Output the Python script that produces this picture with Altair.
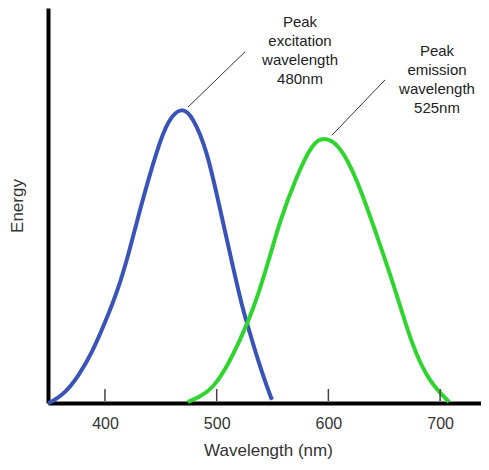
import altair as alt
import pandas as pd

# Excitation (blue) curve
blue_nm = [349.0, 352.6, 364.2, 375.8, 388.4, 400.0, 411.6, 421.0, 431.3, 446.4, 457.0, 468.8,
           478.6, 491.1, 501.2, 514.6, 523.5, 529.8, 536.1, 545.0, 549.5]
blue_energy = [0.0, 0.3, 2.5, 6.6, 12.7, 20.3, 28.6, 37.5, 49.0, 64.1, 72.0, 75.0,
               72.5, 64.1, 51.4, 34.4, 23.5, 17.7, 11.6, 4.1, 0.8]

# Emission (green) curve
green_nm = [474.1, 485.0, 496.7, 509.2, 520.9, 532.5, 545.0, 556.7, 571.4, 585.7, 596.4,
            609.8, 625.0, 645.5, 660.7, 675.0, 690.2, 708.0]
green_energy = [0.3, 1.5, 3.8, 9.1, 15.9, 23.5, 34.4, 46.3, 57.3, 65.9, 67.4,
                65.4, 57.3, 40.7, 28.0, 14.4, 5.3, 0.3]

tick_values = [400, 500, 600, 700]

# Annotation leader lines (start at peak, end near label)
lead_series = ["exc", "exc", "em", "em"]
lead_nm = [474.3, 525.3, 603.2, 650.7]
lead_energy = [74.9, 88.9, 67.8, 81.8]

# Annotation labels
label_text = ["Peak\nexcitation\nwavelength\n480nm", "Peak\nemission\nwavelength\n525nm"]
label_nm = [574.6, 697.2]
label_energy = [98.2, 90.9]

curves = pd.DataFrame({
    "nm": blue_nm + green_nm,
    "energy": blue_energy + green_energy,
    "series": ["Excitation"] * len(blue_nm) + ["Emission"] * len(green_nm),
})
ticks = pd.DataFrame({"nm": tick_values})
leads = pd.DataFrame({"nm": lead_nm, "energy": lead_energy, "series": lead_series})
labels = pd.DataFrame({"nm": label_nm, "energy": label_energy, "text": label_text})

xscale = alt.Scale(domain=[349, 736.6], nice=False, zero=False)
yscale = alt.Scale(domain=[0, 100], nice=False, zero=True)

xaxis = alt.Axis(values=tick_values, tickSize=0, grid=False, domainColor="black",
                 domainWidth=4, labelFontSize=16, labelColor="#333333", labelPadding=12,
                 labelFont="Liberation Sans", title="Wavelength (nm)", titleFontSize=17,
                 titleFontWeight="normal", titleColor="#333333", titleFont="Liberation Sans",
                 titlePadding=11, titleX=220)
yaxis = alt.Axis(labels=False, ticks=False, grid=False, domainColor="black", domainWidth=4,
                 title="Energy", titleFontSize=17, titleFontWeight="normal",
                 titleColor="#333333", titleFont="Liberation Sans", titlePadding=22)

X = alt.X("nm:Q", scale=xscale, axis=xaxis)
Y = alt.Y("energy:Q", scale=yscale, axis=yaxis)

lines = alt.Chart(curves).mark_line(strokeWidth=4, interpolate="basis").encode(
    x=X, y=Y,
    color=alt.Color("series:N", scale=alt.Scale(domain=["Excitation", "Emission"],
                                                range=["#3a53b8", "#2fd42f"]), legend=None),
    detail="series:N",
)

tick_marks = alt.Chart(ticks).mark_rule(color="#444444", strokeWidth=1.5).encode(
    x=X, y=alt.value(381), y2=alt.value(393)
)

lead_lines = alt.Chart(leads).mark_line(color="#333333", strokeWidth=1).encode(
    x=X, y=Y, detail="series:N"
)

label_marks = alt.Chart(labels).mark_text(
    lineBreak="\n", lineHeight=19, align="center", baseline="top", fontSize=15,
    font="Liberation Sans Narrow, Arial Narrow, Liberation Sans", color="#222222"
).encode(x=X, y=Y, text="text:N")

chart = alt.layer(lines, tick_marks, lead_lines, label_marks).properties(
    width=433, height=395,
    autosize=alt.AutoSizeParams(type="none"),
    padding={"left": 40, "top": 0, "right": 0, "bottom": 59},
    background="white",
).configure_view(stroke=None)

chart.save("out.html", embed_options={"renderer": "svg", "actions": False})
